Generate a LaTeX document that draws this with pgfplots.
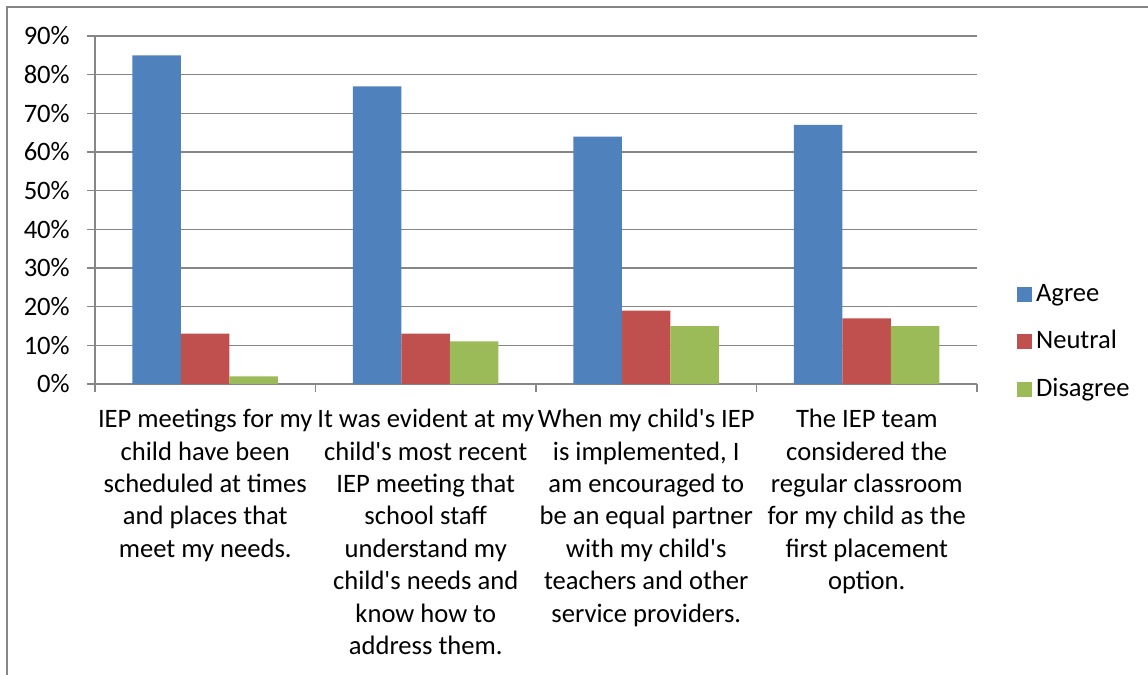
\documentclass[border=0pt]{standalone}
\usepackage{pgfplots}
\pgfplotsset{compat=1.18}
\usepackage{fontspec}
\setmainfont{Carlito}
\definecolor{cAgree}{HTML}{4F81BD}
\definecolor{cNeutral}{HTML}{C0504D}
\definecolor{cDisagree}{HTML}{9BBB59}
\definecolor{gridgray}{HTML}{868686}
\newcommand{\q}{\textquotesingle}
\begin{document}
\fontsize{13.3pt}{16.2pt}\selectfont
\begin{tikzpicture}
\path[use as bounding box, fill=white] (-47.5pt,-145.5pt) rectangle (526.5pt,192pt);
\draw[gridgray, line width=1pt] (-44pt,-145.5pt) -- (-44pt,188.5pt) -- (526.5pt,188.5pt);
\begin{axis}[
  scale only axis,
  width=441pt, height=174pt,
  at={(0pt,0pt)}, anchor=south west,
  ybar=0pt, bar width=24.25pt,
  xmin=-0.5, xmax=3.5, ymin=0, ymax=90,
  axis lines=left, axis line style={-, gridgray, line width=0.75pt},
  ytick={0,10,...,90},
  yticklabels={0\%,10\%,20\%,30\%,40\%,50\%,60\%,70\%,80\%,90\%},
  ymajorgrids, grid style={gridgray, line width=0.75pt},
  tick align=outside, major tick length=4pt,
  tick style={gridgray, line width=0.75pt},
  xtick={-0.5,0.5,1.5,2.5,3.5},
  x tick label as interval,
  xticklabels={
    {IEP meetings for my\\child have been\\scheduled at times\\and places that\\meet my needs.},
    {It was evident at my\\child\q s most recent\\IEP meeting that\\school staff\\understand my\\child\q s needs and\\know how to\\address them.},
    {When my child\q s IEP\\is implemented, I\\am encouraged to\\be an equal partner\\with my child\q s\\teachers and other\\service providers.},
    {The IEP team\\considered the\\regular classroom\\for my child as the\\first placement\\option.}},
  x tick label style={align=center, anchor=north, yshift=-4pt, font=\fontsize{13.3pt}{16.2pt}\selectfont},
  y tick label style={font=\fontsize{13.3pt}{16.2pt}\selectfont, xshift=-4pt},
  legend style={at={(1.045,0.12)}, anchor=west, draw=none, fill=none,
    font=\fontsize{13.3pt}{16.2pt}\selectfont, row sep=8.5pt, inner sep=0pt},
  legend cell align=left,
  legend image code/.code={\fill[#1] (0pt,-3.75pt) rectangle (7.5pt,3.75pt);},
]
\addplot[fill=cAgree, draw=none] coordinates {(0,85) (1,77) (2,64) (3,67)};
\addplot[fill=cNeutral, draw=none] coordinates {(0,13) (1,13) (2,19) (3,17)};
\addplot[fill=cDisagree, draw=none] coordinates {(0,2) (1,11) (2,15) (3,15)};
\legend{Agree,Neutral,Disagree}
\end{axis}
\end{tikzpicture}
\end{document}
